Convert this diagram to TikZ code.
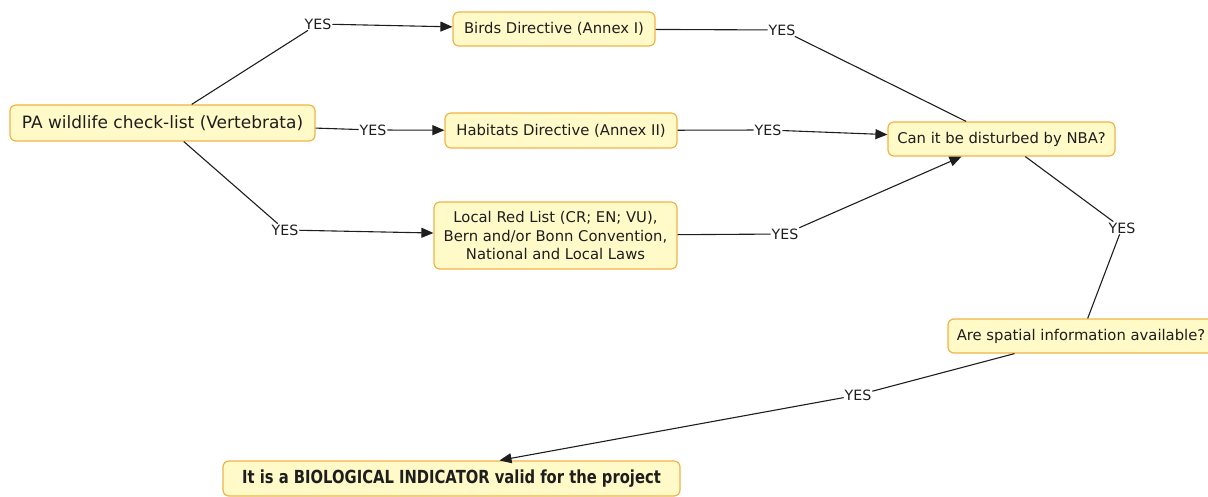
\documentclass[tikz,border=0pt]{standalone}
\usepackage{fontspec}
\setmainfont{DejaVu Sans}
\usetikzlibrary{arrows.meta,calc}
\definecolor{boxfill}{RGB}{255,250,200}
\definecolor{boxline}{RGB}{240,180,70}
\definecolor{ink}{RGB}{30,30,30}
\begin{document}
\begin{tikzpicture}[x=1pt,y=-1pt,
  box/.style={draw=boxline,fill=boxfill,line width=1.2pt,rounded corners=6pt,
    text=ink,font=\fontsize{14.8}{18.5}\selectfont,inner sep=2pt,align=center},
  yes/.style={text=ink,font=\fontsize{14.2}{16}\selectfont,inner sep=0.8pt},
  conn/.style={draw=ink,line width=1.1pt},
  arr/.style={conn,-{Triangle[length=12pt,width=10pt]}}]
\useasboundingbox (0,0) rectangle (1208,497);
% nodes
\node[box,minimum width=305pt,minimum height=36pt,font=\fontsize{17}{20}\selectfont] (pa) at (162.5,123) {PA wildlife check-list (Vertebrata)};
\node[box,minimum width=202pt,minimum height=34pt] (birds) at (554,29) {Birds Directive (Annex I)};
\node[box,minimum width=232pt,minimum height=35pt] (hab) at (561,130.5) {Habitats Directive (Annex II)};
\node[box,minimum width=243pt,minimum height=67pt] (local) at (555.5,235.5) {Local Red List (CR; EN; VU),\\Bern and/or Bonn Convention,\\National and Local Laws};
\node[box,minimum width=227pt,minimum height=34pt] (can) at (1001.5,139) {Can it be disturbed by NBA?};
\node[box,minimum width=266pt,minimum height=34pt] (spat) at (1081,336) {Are spatial information available?};
\node[box,minimum width=457pt,minimum height=35pt,font=\fontsize{18}{20}\bfseries\selectfont] (bio) at (451.5,478.5) {\scalebox{0.82}[1]{It is a BIOLOGICAL INDICATOR valid for the project}};
% labels
\node[yes] (y1) at (318,24) {YES};
\node[yes] (y2) at (373,130) {YES};
\node[yes] (y3) at (285,230) {YES};
\node[yes] (y4) at (782,30) {YES};
\node[yes] (y5) at (768,130) {YES};
\node[yes] (y6) at (785,234) {YES};
\node[yes] (y7) at (1122,228) {YES};
\node[yes] (y8) at (858,395) {YES};
% connectors
\draw[conn] (pa) -- (y1);
\draw[arr] (y1) -- (birds);
\draw[conn] (pa) -- (y2);
\draw[arr] (y2) -- (hab);
\draw[conn] (pa) -- (y3);
\draw[arr] (y3) -- (local);
\draw[conn] (birds) -- (y4);
\draw[conn] (y4) -- (can);
\draw[conn] (hab) -- (y5);
\draw[arr] (y5) -- (can);
\draw[conn] (local) -- (y6);
\draw[arr] (y6) -- ([xshift=-40pt]can.south);
\draw[conn] (can) -- (y7);
\draw[conn] (y7) -- (spat);
\draw[conn] (spat) -- (y8);
\draw[arr] (y8) -- ([xshift=48pt]bio.north);
\end{tikzpicture}
\end{document}
